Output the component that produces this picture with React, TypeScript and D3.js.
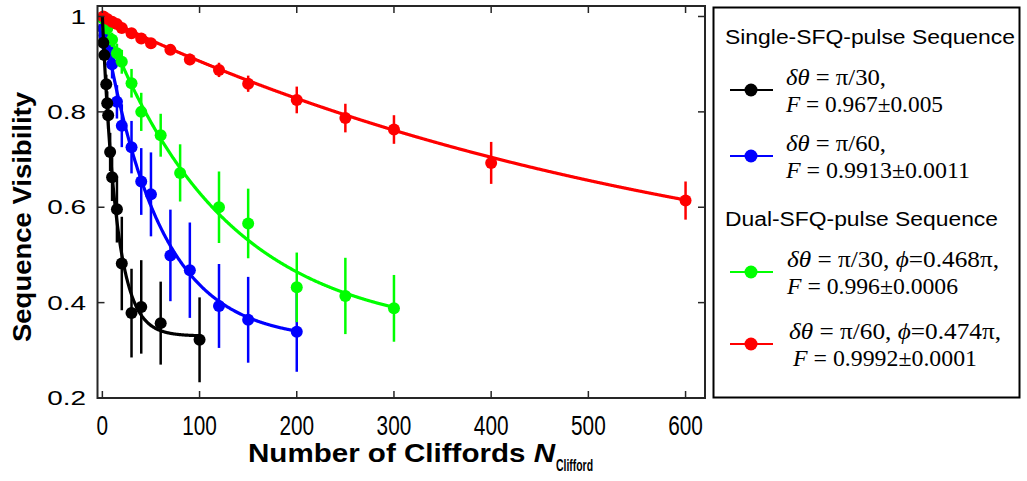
import React, { useEffect, useRef } from "react";
import * as d3 from "d3";

const width = 1027;
const height = 481;

// measured sequences (N Clifford, visibility, error bar half-length)
const blackN = [1, 2, 4, 5, 6, 8, 10, 15, 20, 30, 40, 60, 100];
const blackV = [0.945, 0.919, 0.858, 0.818, 0.793, 0.716, 0.663, 0.596, 0.482, 0.378, 0.391, 0.357, 0.322];
const blackErr = [0.01, 0.015, 0.02, 0.025, 0.03, 0.04, 0.05, 0.07, 0.098, 0.093, 0.098, 0.087, 0.089];

const blueN = [1, 2, 4, 6, 8, 10, 15, 20, 30, 40, 50, 70, 90, 120, 150, 200];
const blueV = [0.975, 0.96, 0.94, 0.93, 0.92, 0.9, 0.821, 0.771, 0.726, 0.654, 0.627, 0.499, 0.468, 0.393, 0.364, 0.339];
const blueErr = [0.01, 0.01, 0.015, 0.02, 0.02, 0.03, 0.035, 0.045, 0.055, 0.07, 0.088, 0.096, 0.1, 0.088, 0.09, 0.084];

const greenN = [1, 5, 10, 15, 20, 30, 40, 60, 80, 120, 150, 200, 250, 300];
const greenV = [0.995, 0.975, 0.951, 0.923, 0.905, 0.86, 0.8, 0.751, 0.672, 0.6, 0.566, 0.432, 0.414, 0.388];
const greenErr = [0.005, 0.01, 0.015, 0.02, 0.025, 0.03, 0.04, 0.045, 0.06, 0.075, 0.073, 0.073, 0.08, 0.07];

const redN = [1, 5, 10, 15, 20, 30, 40, 50, 70, 90, 120, 150, 200, 250, 300, 400, 600];
const redV = [1.0, 0.995, 0.989, 0.984, 0.976, 0.965, 0.954, 0.944, 0.93, 0.91, 0.888, 0.859, 0.825, 0.787, 0.763, 0.693, 0.614];
const redErr = [0.003, 0.004, 0.005, 0.006, 0.006, 0.007, 0.008, 0.009, 0.01, 0.012, 0.015, 0.017, 0.028, 0.03, 0.03, 0.044, 0.04];

// fit V = A * p^N + B
const fitA = [0.67, 0.68, 0.67, 0.62];
const fitB = [0.33, 0.32, 0.33, 0.378];
const fitP = [0.934, 0.9826, 0.992, 0.9984];
const fitEnd = [100, 200, 300, 600];

const colors = ["#000000", "#0000ff", "#00ff00", "#ff0000"];
const xTicks = [0, 100, 200, 300, 400, 500, 600];
const yTicks = [0.2, 0.4, 0.6, 0.8, 1];

const series = [
  { n: blackN, v: blackV, e: blackErr },
  { n: blueN, v: blueV, e: blueErr },
  { n: greenN, v: greenV, e: greenErr },
  { n: redN, v: redV, e: redErr },
];

const drawOrder = [1, 2, 3, 0];

const App = () => {
  const ref = useRef<SVGSVGElement>(null);

  useEffect(() => {
    const svg = d3.select(ref.current);
    svg.selectAll("*").remove();

    const x = d3.scaleLinear().domain([-5, 620]).range([97.5, 705]);
    const y = d3.scaleLinear().domain([0.2, 1.022]).range([398, 6]);
    const sans = "Liberation Sans, Arial, sans-serif";
    const serif = "Liberation Serif, Times New Roman, serif";
    const axisColor = "#262626";

    const plot = svg.append("g");

    drawOrder.forEach((k) => {
      const s = series[k];
      const g = plot.append("g");
      const pts = s.n.map((n, i) => ({ n, v: s.v[i], e: s.e[i] }));

      // error bars
      g.selectAll("line.err")
        .data(pts)
        .join("line")
        .attr("x1", (d) => x(d.n))
        .attr("x2", (d) => x(d.n))
        .attr("y1", (d) => y(d.v - d.e))
        .attr("y2", (d) => y(d.v + d.e))
        .attr("stroke", colors[k])
        .attr("stroke-width", 2.5);

      // fit curve
      const ns = d3.range(0, fitEnd[k] + 0.5, 0.5);
      const line = d3
        .line<number>()
        .x((n) => x(n))
        .y((n) => y(fitA[k] * Math.pow(fitP[k], n) + fitB[k]));
      g.append("path")
        .attr("d", line(ns))
        .attr("fill", "none")
        .attr("stroke", colors[k])
        .attr("stroke-width", 3.2);

      // markers
      g.selectAll("circle")
        .data(pts)
        .join("circle")
        .attr("cx", (d) => x(d.n))
        .attr("cy", (d) => y(d.v))
        .attr("r", 6)
        .attr("fill", colors[k]);
    });

    // frame
    svg.append("rect")
      .attr("x", 97.5)
      .attr("y", 6)
      .attr("width", 705 - 97.5)
      .attr("height", 398 - 6)
      .attr("fill", "none")
      .attr("stroke", axisColor)
      .attr("stroke-width", 2);

    // ticks (inward, all four sides)
    xTicks.forEach((t) => {
      svg.append("line").attr("x1", x(t)).attr("x2", x(t)).attr("y1", 398).attr("y2", 391)
        .attr("stroke", axisColor).attr("stroke-width", 1.5);
      svg.append("line").attr("x1", x(t)).attr("x2", x(t)).attr("y1", 6).attr("y2", 13)
        .attr("stroke", axisColor).attr("stroke-width", 1.5);
    });
    yTicks.forEach((t) => {
      svg.append("line").attr("x1", 97.5).attr("x2", 104.5).attr("y1", y(t)).attr("y2", y(t))
        .attr("stroke", axisColor).attr("stroke-width", 1.5);
      svg.append("line").attr("x1", 705).attr("x2", 698).attr("y1", y(t)).attr("y2", y(t))
        .attr("stroke", axisColor).attr("stroke-width", 1.5);
    });

    // tick labels
    svg.append("g")
      .selectAll("text")
      .data(xTicks)
      .join("text")
      .attr("transform", (d) => `translate(${x(d)},425) scale(0.77,1)`)
      .attr("text-anchor", "middle")
      .attr("dominant-baseline", "central")
      .attr("font-family", sans)
      .attr("font-size", 27)
      .attr("fill", "#000")
      .text((d) => d);

    svg.append("g")
      .selectAll("text")
      .data(yTicks)
      .join("text")
      .attr("transform", (d) => `translate(86,${y(d)}) scale(1.33,1)`)
      .attr("text-anchor", "end")
      .attr("dominant-baseline", "central")
      .attr("font-family", sans)
      .attr("font-size", 21)
      .attr("fill", "#000")
      .text((d) => d3.format("~g")(d));

    // axis titles
    svg.append("text")
      .attr("transform", "translate(31,342) rotate(-90)")
      .attr("font-family", sans)
      .attr("font-weight", 700)
      .attr("font-size", 26)
      .attr("textLength", 250)
      .attr("lengthAdjust", "spacingAndGlyphs")
      .text("Sequence Visibility");

    const xt = svg.append("text")
      .attr("x", 248)
      .attr("y", 462)
      .attr("font-family", sans)
      .attr("font-weight", 700)
      .attr("font-size", 26)
      .attr("textLength", 307)
      .attr("lengthAdjust", "spacingAndGlyphs");
    xt.append("tspan").text("Number of Cliffords ");
    xt.append("tspan").attr("font-style", "italic").text("N");
    svg.append("text")
      .attr("x", 556)
      .attr("y", 471)
      .attr("font-family", sans)
      .attr("font-weight", 700)
      .attr("font-size", 16)
      .attr("textLength", 37)
      .attr("lengthAdjust", "spacingAndGlyphs")
      .text("Clifford");

    // legend
    const lg = svg.append("g");
    lg.append("rect")
      .attr("x", 713.5)
      .attr("y", 7.5)
      .attr("width", 306)
      .attr("height", 390)
      .attr("fill", "#fff")
      .attr("stroke", "#000")
      .attr("stroke-width", 2);

    const headers = [
      { t: "Single-SFQ-pulse Sequence", y: 37, w: 290 },
      { t: "Dual-SFQ-pulse Sequence", y: 219, w: 273 },
    ];
    lg.selectAll("text.h")
      .data(headers)
      .join("text")
      .attr("x", 725)
      .attr("y", (d) => d.y)
      .attr("dominant-baseline", "central")
      .attr("font-family", sans)
      .attr("font-size", 20)
      .attr("textLength", (d) => d.w)
      .attr("lengthAdjust", "spacingAndGlyphs")
      .text((d) => d.t);

    const entries = [
      { k: 0, y: 90, l1: ["δθ", " = π/30,"], w1: 100, l2: "0.967±0.005", w2: 157, x1: 786, x2: 786 },
      { k: 1, y: 156, l1: ["δθ", " = π/60,"], w1: 100, l2: "0.9913±0.0011", w2: 184, x1: 786, x2: 786 },
      { k: 2, y: 272, l1: ["δθ", " = π/30, ", "ϕ", "=0.468π,"], w1: 212, l2: "0.996±0.0006", w2: 171, x1: 787, x2: 787 },
      { k: 3, y: 344, l1: ["δθ", " = π/60, ", "ϕ", "=0.474π,"], w1: 212, l2: "0.9992±0.0001", w2: 184, x1: 789, x2: 793 },
    ];
    entries.forEach((e) => {
      lg.append("line")
        .attr("x1", 730).attr("x2", 773)
        .attr("y1", e.y).attr("y2", e.y)
        .attr("stroke", colors[e.k]).attr("stroke-width", 2);
      lg.append("circle")
        .attr("cx", 751).attr("cy", e.y).attr("r", 6.5)
        .attr("fill", colors[e.k]);
      const t1 = lg.append("text")
        .attr("x", e.x1)
        .attr("y", e.y - 13)
        .attr("dominant-baseline", "central")
        .attr("font-family", serif)
        .attr("font-size", 24)
        .attr("textLength", e.w1)
        .attr("lengthAdjust", "spacingAndGlyphs");
      e.l1.forEach((s, i) => {
        t1.append("tspan").attr("font-style", i % 2 === 0 ? "italic" : "normal").text(s);
      });
      const t2 = lg.append("text")
        .attr("x", e.x2)
        .attr("y", e.y + 14)
        .attr("dominant-baseline", "central")
        .attr("font-family", serif)
        .attr("font-size", 24)
        .attr("textLength", e.w2)
        .attr("lengthAdjust", "spacingAndGlyphs");
      t2.append("tspan").attr("font-style", "italic").text("F");
      t2.append("tspan").text(" = " + e.l2);
    });
  }, []);

  return (
    <svg
      ref={ref}
      width={width}
      height={height}
      style={{ position: "absolute", left: 0, top: 0, background: "#fff" }}
    ></svg>
  );
};

export default App;
